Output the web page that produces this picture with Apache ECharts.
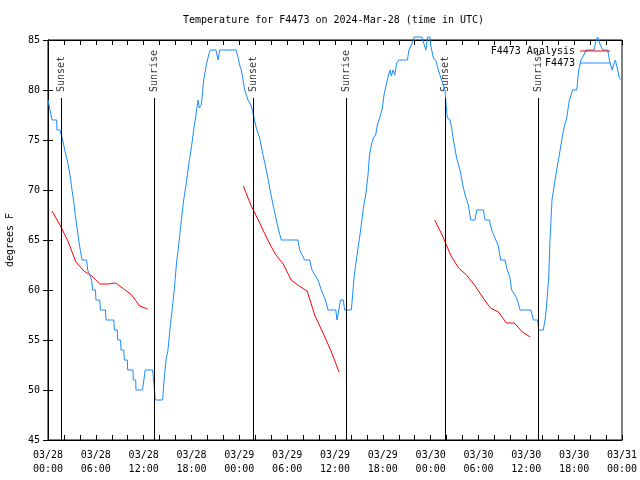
<!DOCTYPE html>
<html>
<head>
<meta charset="utf-8">
<script src="https://cdn.jsdelivr.net/npm/echarts@6/dist/echarts.min.js"></script>
<style>html,body{margin:0;padding:0;background:#fff}#c{width:640px;height:480px}</style>
</head>
<body>
<div id="c"></div>
<script>
// ---- data (hours since 2024-03-28 00:00 UTC) ----
const xTickLabels = ['03/28\n00:00','03/28\n06:00','03/28\n12:00','03/28\n18:00','03/29\n00:00','03/29\n06:00','03/29\n12:00','03/29\n18:00','03/30\n00:00','03/30\n06:00','03/30\n12:00','03/30\n18:00','03/31\n00:00'];

const obsHours = [0.0,0.17,0.5,1.09,1.12,1.5,1.84,2.1,2.4,2.65,2.85,3.01,3.2,3.35,3.5,3.68,3.85,4.05,4.27,4.85,4.98,5.2,5.48,5.6,5.95,6.02,6.5,6.57,7.2,7.28,8.25,8.32,8.7,8.74,9.1,9.16,9.5,9.58,9.95,10.0,10.65,10.7,11.0,11.04,11.85,12.2,13.13,13.3,13.46,14.38,14.51,14.80,15.05,15.35,15.64,15.89,16.10,16.39,16.73,17.02,17.31,17.64,17.98,18.27,18.56,18.82,18.98,19.23,19.53,19.86,20.15,20.36,21.07,21.33,21.53,23.58,23.83,24.04,24.25,24.46,24.67,25.09,25.51,25.71,25.84,26.13,26.55,26.97,27.39,27.81,28.23,28.64,28.93,29.26,31.35,31.57,32.19,32.82,33.11,33.87,34.29,34.79,35.12,36.1,36.25,36.5,36.7,37.05,37.2,38.05,38.18,38.38,38.59,38.89,39.22,39.56,39.85,40.14,40.31,40.56,40.81,41.10,41.31,41.60,41.94,42.15,42.56,42.90,43.07,43.28,43.49,43.74,44.03,45.08,45.28,45.70,45.91,46.3,46.9,47.2,47.4,47.6,47.9,48.0,48.34,48.67,48.96,49.38,49.80,49.93,50.09,50.43,50.64,50.85,51.26,51.68,52.10,52.44,52.73,53.02,53.56,53.77,54.61,54.82,55.36,55.66,56.07,56.49,56.78,57.33,57.54,57.95,58.16,58.58,58.87,59.21,60.58,60.88,61.42,61.55,62.13,62.38,62.55,62.80,62.97,63.22,63.51,63.80,64.14,64.48,64.77,65.06,65.40,65.81,66.32,66.57,66.86,67.15,67.49,68.5,68.74,68.95,69.24,69.58,70.21,70.42,70.75,70.92,71.17,71.46,71.67,72.0];
const obsTemps = [79,79,77,77,76,76,75,74,73,72,71,70,69,68,67,66,65,64,63,63,62,62,61,60,60,59,59,58,58,57,57,56,56,55,55,54,54,53,53,52,52,51,51,50,50,52,52,50.5,49,49,50.5,53,54,56.5,58.5,60.5,62.5,64.5,67,69,70.5,72.5,74.2,76,77.5,79,78.2,78.5,81,82.5,83.5,84,84,83,84,84,83.3,82.5,82,81,80,79,78.4,77.7,77.2,76.2,75.2,73.5,72,70.2,68.5,67,66,65,65,64,63,63,62,61,60,59,58,58,57,57,59,59,58,58,59.2,61.2,62.5,64.2,66,68.2,69.5,71.5,73.4,74.5,75.2,75.5,76.5,77.2,78.2,79.5,81,82,81.4,82,81.5,82.7,83,83,84,84.7,85.3,85.3,85.3,84.5,84,85.3,85.3,84.5,83.2,82.9,82,81,80,78.5,77.2,77,76.2,75,73.2,72,70.2,69.2,68.5,67,67,68,68,67,67,66,65.2,64.4,63,63,62.2,61.2,60,59.5,59,58,58,57,57,56,56,57.2,58.5,61.2,65,69,70.5,72,73.5,75.2,76.4,77.2,79,80,80,82,83,83.4,84,84,85,85.3,84.6,84,84,83,82,82.2,83,82,81.2,81];

const anaHours1 = [0.5,1.5,2.5,3.5,4.5,5.5,6.5,7.5,8.5,9.5,10.5,11.5,12.5];
const anaTemps1 = [67.9,66.5,64.9,62.8,61.9,61.4,60.6,60.6,60.7,60.1,59.5,58.4,58.1];
const anaHours2 = [24.5,25.5,26.5,27.5,28.5,29.5,30.5,31.5,32.5,33.5,34.5,35.5,36.5];
const anaTemps2 = [70.4,68.4,66.8,65.1,63.6,62.6,61.0,60.4,59.9,57.4,55.7,53.9,51.8];
const anaHours3 = [48.5,49.5,50.5,51.5,52.5,53.5,54.5,55.5,56.5,57.5,58.5,59.5,60.5];
const anaTemps3 = [67.0,65.4,63.5,62.2,61.5,60.5,59.3,58.2,57.8,56.7,56.7,55.8,55.3];

const eventHours = [1.7,13.35,25.75,37.4,49.8,61.5];
const eventNames = ['Sunset','Sunrise','Sunset','Sunrise','Sunset','Sunrise'];
const eventLineTop = 79.2;
const eventLabelAt = 79.8;

// ---- chart ----
const FONT = 'DejaVu Sans Mono';
const txt = {fontFamily: FONT, fontSize: 10, color: '#000'};
const zip = (a, b) => a.map((v, i) => [v, b[i]]);
const anaData = zip(anaHours1, anaTemps1).concat([['-','-']], zip(anaHours2, anaTemps2), [['-','-']], zip(anaHours3, anaTemps3));

const chart = echarts.init(document.getElementById('c'), null, {renderer: 'canvas'});
const tickStyle = {inside: true, length: 5, lineStyle: {color: '#000', width: 1}};
const legendBase = {right: 30, orient: 'vertical', align: 'right', icon: 'rect', itemWidth: 30, itemHeight: 1, padding: 0, selectedMode: false, textStyle: txt};
chart.setOption({
  animation: false,
  backgroundColor: '#fff',
  title: {text: 'Temperature for F4473 on 2024-Mar-28 (time in UTC)', left: 183, top: 15, padding: 0,
    textStyle: Object.assign({fontWeight: 'normal'}, txt)},
  grid: {left: 48, right: 18, top: 40, bottom: 40, show: true, borderColor: '#000', borderWidth: 1, containLabel: false, outerBoundsMode: 'none'},
  legend: [
    Object.assign({data: ['F4473 Analysis'], top: 46}, legendBase),
    Object.assign({data: ['F4473'], top: 58}, legendBase)
  ],
  xAxis: [
    {type: 'value', min: 0, max: 72, interval: 6,
      axisLine: {lineStyle: {color: '#000'}}, axisTick: tickStyle,
      minorTick: {show: true, splitNumber: 3, length: 5, lineStyle: {color: '#000'}},
      splitLine: {show: false}, minorSplitLine: {show: false},
      axisLabel: Object.assign({formatter: v => xTickLabels[Math.round(v / 6)], lineHeight: 14, margin: 8}, txt)},
    {type: 'value', position: 'top', min: 0, max: 72, interval: 6,
      axisLine: {lineStyle: {color: '#000'}}, axisTick: tickStyle,
      minorTick: {show: true, splitNumber: 3, length: 5, lineStyle: {color: '#000'}},
      splitLine: {show: false}, axisLabel: {show: false}}
  ],
  yAxis: [
    {type: 'value', min: 45, max: 85, interval: 5,
      name: 'degrees F', nameLocation: 'middle', nameGap: 33, nameRotate: 90, nameTextStyle: txt,
      axisLine: {show: true, lineStyle: {color: '#000'}}, axisTick: tickStyle,
      splitLine: {show: false}, axisLabel: Object.assign({margin: 8}, txt)},
    {type: 'value', position: 'right', min: 45, max: 85, interval: 5,
      axisLine: {show: true, lineStyle: {color: '#000'}}, axisTick: tickStyle,
      splitLine: {show: false}, axisLabel: {show: false}}
  ],
  series: [
    {name: 'F4473 Analysis', type: 'line', data: anaData, symbol: 'none', showSymbol: false,
      lineStyle: {color: '#ff0000', width: 1}, itemStyle: {color: '#ff0000'}, connectNulls: false},
    {name: 'F4473', type: 'line', data: zip(obsHours, obsTemps), symbol: 'none', showSymbol: false, clip: false,
      lineStyle: {color: '#1a8cff', width: 1}, itemStyle: {color: '#1a8cff'}},
    {name: 'events', type: 'scatter', symbolSize: 1, itemStyle: {color: 'rgba(0,0,0,0)'},
      data: eventHours.map((h, i) => ({value: [h, eventLabelAt], name: eventNames[i]})),
      label: Object.assign({show: true, position: 'inside', rotate: 90, align: 'left', verticalAlign: 'middle', formatter: '{b}'}, txt),
      markLine: {symbol: 'none', silent: true, label: {show: false},
        lineStyle: {color: '#000', width: 1, type: 'solid'},
        data: eventHours.map(h => [{coord: [h, 45]}, {coord: [h, eventLineTop]}])}}
  ]
});
</script>
</body>
</html>
